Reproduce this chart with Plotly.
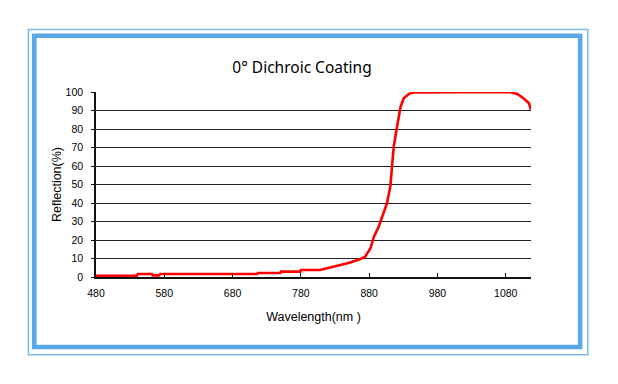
import plotly.graph_objects as go

# Data
wavelength = [480, 540, 541, 562, 563, 572, 574, 716, 717, 750, 751, 779, 780, 808,
              832, 851, 867, 874, 882, 887, 894, 899, 906, 911, 913.5, 916, 920, 923,
              926, 930.6, 938, 945, 1085, 1097, 1106, 1114, 1117]
reflection = [0.7, 0.7, 1.6, 1.6, 0.9, 0.9, 1.6, 1.6, 2.2, 2.2, 2.9, 2.9, 3.8, 3.8,
              5.9, 7.7, 9.7, 11, 15.6, 21.8, 27.2, 32.6, 39.8, 48.8, 59.6, 70.4, 79.5, 86.6,
              92, 96.6, 98.9, 99.8, 100, 98.9, 96.6, 93.9, 90.3]
x_ticks = [480, 580, 680, 780, 880, 980, 1080]
y_ticks = [0, 10, 20, 30, 40, 50, 60, 70, 80, 90, 100]

# page has an 8px body margin; work in figure coordinates
OFF = 8
W, H = 618 - OFF, 384 - OFF
L, R, T, B = 96 - OFF, 530.7 - OFF, 92 - OFF, 277 - OFF


def px(x):
    return (x - OFF - L) / (R - L)


def py(y):
    return (B - (y - OFF)) / (B - T)


fig = go.Figure()
fig.add_trace(go.Scatter(x=wavelength, y=reflection, mode="lines",
                         line=dict(color="#ff0000", width=2.6), hoverinfo="skip",
                         showlegend=False))

# Decorative frame
fig.add_shape(type="rect", xref="paper", yref="paper",
              x0=px(28.5), x1=px(587.5), y0=py(354.7), y1=py(29.5),
              line=dict(color="#78bdee", width=1.5), layer="below")
fig.add_shape(type="rect", xref="paper", yref="paper",
              x0=px(34.3), x1=px(579.8), y0=py(347), y1=py(35.7),
              line=dict(color="#5aa8e6", width=4.6), layer="below")

tickfont = dict(family="Liberation Sans, Arial, sans-serif", size=10.5, color="#000")

fig.update_layout(
    width=W, height=H,
    margin=dict(l=L, r=W - R, t=T, b=H - B),
    paper_bgcolor="white", plot_bgcolor="white",
    title=dict(text="0° Dichroic Coating", x=(302 - OFF) / W, xref="container",
               xanchor="center", y=1 - (68 - OFF) / H, yref="container", yanchor="middle",
               font=dict(family="Noto Sans, Open Sans, sans-serif", size=15.5, color="#000")),
    xaxis=dict(range=[480, 1117], tickvals=x_ticks, ticks="inside", ticklen=4,
               tickcolor="#111", tickwidth=1.2, showline=True, linecolor="#111",
               linewidth=1.5, showgrid=False, zeroline=False, tickfont=tickfont,
               ticklabelstandoff=6,
               title=dict(text="Wavelength(nm )", standoff=14,
                          font=dict(family="Liberation Sans, Arial, sans-serif", size=12.5,
                                    color="#000"))),
    yaxis=dict(range=[0, 100], tickvals=y_ticks, ticks="outside", ticklen=3,
               tickcolor="#111", tickwidth=1.2, showline=True, linecolor="#111",
               linewidth=1.5, showgrid=True, gridcolor="#222", gridwidth=1.2,
               zeroline=False, tickfont=tickfont, ticklabelstandoff=6,
               title=dict(text="Reflection(%)", standoff=1,
                          font=dict(family="Liberation Sans, Arial, sans-serif", size=12.5,
                                    color="#000"))),
)

fig.write_html("out.html")
